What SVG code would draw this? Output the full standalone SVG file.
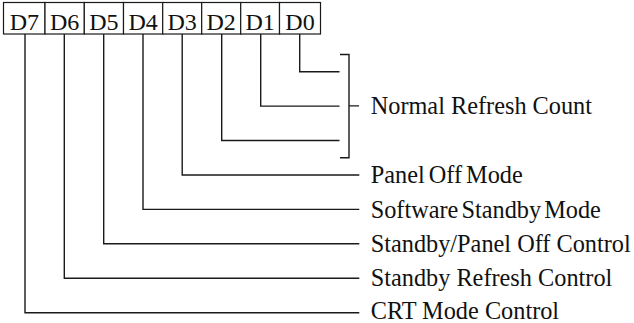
<svg xmlns="http://www.w3.org/2000/svg" width="634" height="323" viewBox="0 0 634 323">
<style>
  .box { fill: #fff; stroke: #1a1a1a; stroke-width: 1.2; }
  .bit { font-family: "Liberation Serif", "Times New Roman", serif; font-size: 24px; fill: #111; text-anchor: middle; }
  .lbl { font-family: "Liberation Serif", "Times New Roman", serif; font-size: 24.3px; fill: #111; }
  .wire { fill: none; stroke: #1a1a1a; stroke-width: 1.4; }
</style>
<rect width="634" height="323" fill="#fff"/>
<g id="register">
  <g id="bit-d7"><rect class="box" x="3.5" y="2.5" width="41.5" height="31.5"/><text class="bit" x="24.3" y="29.5">D7</text></g>
  <g id="bit-d6"><rect class="box" x="45" y="2.5" width="39.3" height="31.5"/><text class="bit" x="64.6" y="29.5">D6</text></g>
  <g id="bit-d5"><rect class="box" x="84.3" y="2.5" width="39.2" height="31.5"/><text class="bit" x="103.9" y="29.5">D5</text></g>
  <g id="bit-d4"><rect class="box" x="123.5" y="2.5" width="39.2" height="31.5"/><text class="bit" x="143.1" y="29.5">D4</text></g>
  <g id="bit-d3"><rect class="box" x="162.7" y="2.5" width="39" height="31.5"/><text class="bit" x="182.2" y="29.5">D3</text></g>
  <g id="bit-d2"><rect class="box" x="201.7" y="2.5" width="39" height="31.5"/><text class="bit" x="221.2" y="29.5">D2</text></g>
  <g id="bit-d1"><rect class="box" x="240.7" y="2.5" width="38.8" height="31.5"/><text class="bit" x="260.1" y="29.5">D1</text></g>
  <g id="bit-d0"><rect class="box" x="279.5" y="2.5" width="41" height="31.5"/><text class="bit" x="300" y="29.5">D0</text></g>
</g>
<g id="connectors">
  <path class="wire" d="M299.7 34 V71.7 H339.5"/>
  <path class="wire" d="M260.7 34 V106.1 H339.5"/>
  <path class="wire" d="M221.7 34 V140.5 H339.5"/>
  <path class="wire" d="M340 54.5 H349 V157.7 H340 M349 105.9 H359"/>
  <path class="wire" d="M182.2 34 V175 H359.3"/>
  <path class="wire" d="M143 34 V209.4 H359.3"/>
  <path class="wire" d="M103.7 34 V243.8 H359.3"/>
  <path class="wire" d="M64.3 34 V278.2 H359.3"/>
  <path class="wire" d="M25 34 V312.7 H359.3"/>
</g>
<g id="label-normal-refresh"><text class="lbl" x="370.7" y="114">Normal Refresh Count</text></g>
<g id="label-panel-off"><text class="lbl" x="370.7" y="183.2" word-spacing="-2">Panel Off Mode</text></g>
<g id="label-software-standby"><text class="lbl" x="370.7" y="217.6" word-spacing="-3">Software Standby Mode</text></g>
<g id="label-standby-panel"><text class="lbl" x="370.7" y="252">Standby/Panel Off Control</text></g>
<g id="label-standby-refresh"><text class="lbl" x="370.7" y="286.4">Standby Refresh Control</text></g>
<g id="label-crt"><text class="lbl" x="370.7" y="318.8">CRT Mode Control</text></g>
</svg>
